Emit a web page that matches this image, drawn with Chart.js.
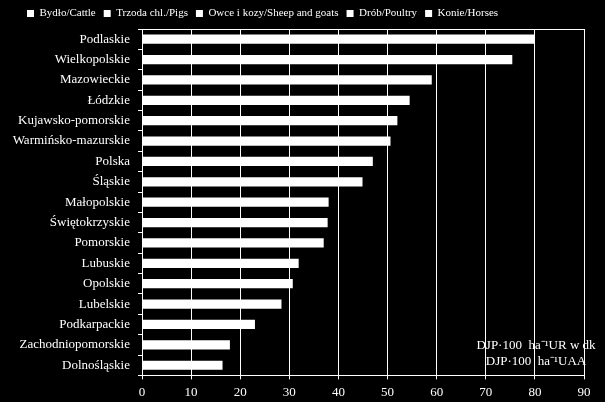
<!DOCTYPE html>
<html>
<head>
<meta charset="utf-8">
<script src="https://cdn.jsdelivr.net/npm/chart.js@4.4.1/dist/chart.umd.min.js"></script>
<style>
  html, body { margin: 0; padding: 0; background: #000; }
  #wrap { width: 605px; height: 402px; }
</style>
</head>
<body>
<div id="wrap"><canvas id="barChart" width="605" height="402"></canvas></div>
<script>
const regions = ['Podlaskie', 'Wielkopolskie', 'Mazowieckie', 'Łódzkie', 'Kujawsko-pomorskie',
  'Warmińsko-mazurskie', 'Polska', 'Śląskie', 'Małopolskie', 'Świętokrzyskie', 'Pomorskie',
  'Lubuskie', 'Opolskie', 'Lubelskie', 'Podkarpackie', 'Zachodniopomorskie', 'Dolnośląskie'];
// total livestock units per 100 ha (all species stacked, bars are plain white)
const totals = [80.0, 75.4, 59.0, 54.5, 52.0, 50.6, 47.0, 44.9, 38.0, 37.8, 37.0, 31.9, 30.7, 28.4, 23.0, 17.9, 16.4];
const seriesNames = ['Bydło/Cattle', 'Trzoda chl./Pigs', 'Owce i kozy/Sheep and goats', 'Drób/Poultry', 'Konie/Horses'];
const xTicks = [0, 10, 20, 30, 40, 50, 60, 70, 80, 90];
const unitLines = ['DJP·100  ha⁻¹UR w dk', 'DJP·100  ha⁻¹UAA'];

const serif = "'Liberation Serif', 'Times New Roman', serif";

// black background + unit note, drawn before the grid so lines go over it
const backdrop = {
  id: 'backdrop',
  afterLayout(chart) {
    // nudge the legend row to the right like in the original
    chart.legend.left = 19;
  },
  beforeDraw(chart) {
    const c = chart.ctx;
    c.save();
    c.fillStyle = '#000';
    c.fillRect(0, 0, chart.width, chart.height);
    const a = chart.chartArea;
    c.fillStyle = '#fff';
    c.font = '13px ' + serif;
    c.textAlign = 'center';
    c.textBaseline = 'middle';
    c.fillText(unitLines[0], 536, a.bottom - 30);
    c.fillText(unitLines[1], 536, a.bottom - 14);
    c.restore();
  },
  afterDraw(chart) {
    const c = chart.ctx, a = chart.chartArea;
    c.save();
    c.strokeStyle = '#fff';
    c.lineWidth = 1;
    c.beginPath();
    c.moveTo(a.left, Math.round(a.top) + 0.5);
    c.lineTo(a.right, Math.round(a.top) + 0.5);
    c.stroke();
    c.restore();
  }
};

new Chart(document.getElementById('barChart').getContext('2d'), {
  type: 'bar',
  data: {
    labels: regions,
    datasets: [{
      label: 'Razem/Total',
      data: totals,
      backgroundColor: '#fff',
      borderWidth: 0,
      categoryPercentage: 1,
      barPercentage: 0.45
    }]
  },
  options: {
    responsive: false,
    animation: false,
    indexAxis: 'y',
    layout: { padding: { left: 0, right: 21, top: 0, bottom: -3 } },
    plugins: {
      tooltip: { enabled: false },
      legend: {
        position: 'top',
        align: 'start',
        labels: {
          color: '#fff',
          font: { family: serif, size: 11 },
          boxWidth: 7,
          boxHeight: 7,
          padding: 8,
          generateLabels: () => seriesNames.map(name => ({
            text: name,
            fillStyle: '#fff',
            strokeStyle: '#fff',
            lineWidth: 0,
            fontColor: '#fff'
          }))
        }
      }
    },
    scales: {
      x: {
        min: 0,
        max: 90,
        afterBuildTicks: axis => { axis.ticks = xTicks.map(v => ({ value: v })); },
        grid: { color: '#fff', lineWidth: 1, tickLength: 4, tickColor: '#fff' },
        border: { color: '#fff', width: 1 },
        ticks: { color: '#fff', font: { family: serif, size: 13 }, padding: 5, maxRotation: 0 }
      },
      y: {
        afterFit: axis => { axis.width = 142; },
        grid: { offset: true, drawOnChartArea: false, color: '#fff', tickLength: 4, tickColor: '#fff' },
        border: { color: '#fff', width: 1 },
        ticks: { color: '#fff', font: { family: serif, size: 13 }, padding: 8, autoSkip: false }
      }
    }
  },
  plugins: [backdrop]
});
</script>
</body>
</html>
